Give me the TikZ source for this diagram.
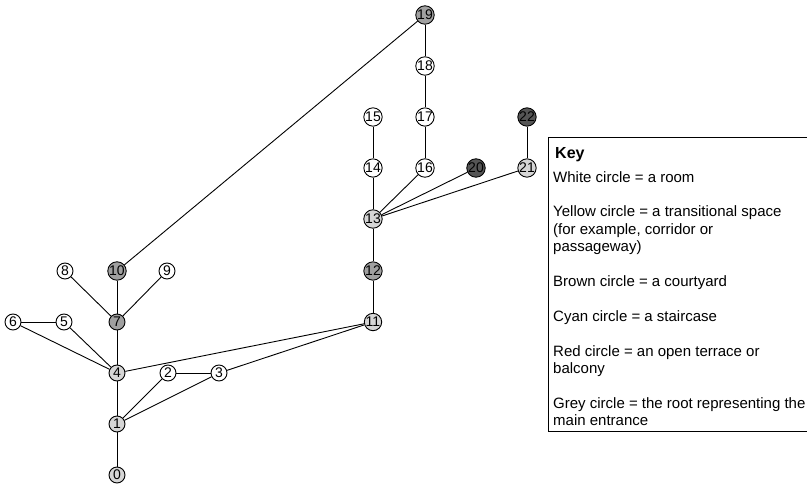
\documentclass[tikz,border=0pt]{standalone}
\usepackage{fontspec}
\setmainfont{Liberation Sans}
\definecolor{rootgrey}{HTML}{D6D6D6}
\definecolor{midgrey}{HTML}{A0A0A0}
\definecolor{darkgrey}{HTML}{555555}
\begin{document}
\begin{tikzpicture}[x=1pt, y=-1pt,
  vtx/.style={circle, draw, line width=0.9pt, minimum size=16pt, inner sep=0pt,
    font=\fontsize{14}{14}\selectfont},
  room/.style={vtx, fill=white},
  pale/.style={vtx, fill=rootgrey},
  mid/.style={vtx, fill=midgrey},
  dark/.style={vtx, fill=darkgrey},
  edge/.style={line width=0.9pt},
  keytext/.style={anchor=north west, inner sep=0pt, align=left,
    font=\fontsize{15}{17.4}\selectfont}]
\useasboundingbox (0,0) rectangle (807,485);

% vertices of the access graph
\node[pale] (n0)  at (117,475) {0};
\node[pale] (n1)  at (117,424) {1};
\node[room] (n2)  at (168,373) {2};
\node[room] (n3)  at (219,373) {3};
\node[pale] (n4)  at (117,373) {4};
\node[room] (n5)  at (64,322)  {5};
\node[room] (n6)  at (13,322)  {6};
\node[mid]  (n7)  at (117,322) {7};
\node[room] (n8)  at (65,271)  {8};
\node[room] (n9)  at (167,271) {9};
\node[mid]  (n10) at (117,271) {10};
\node[pale] (n11) at (373,322) {11};
\node[mid]  (n12) at (373,271) {12};
\node[pale] (n13) at (373,219) {13};
\node[room] (n14) at (373,168) {14};
\node[room] (n15) at (373,117) {15};
\node[room] (n16) at (425,168) {16};
\node[room] (n17) at (425,117) {17};
\node[room] (n18) at (425,66)  {18};
\node[mid]  (n19) at (425,15)  {19};
\node[dark] (n20) at (476,168) {20};
\node[pale] (n21) at (527,168) {21};
\node[dark] (n22) at (527,117) {22};

% links between spaces
\foreach \a/\b in {n0/n1, n1/n4, n1/n2, n1/n3, n2/n3, n4/n11, n3/n11,
                   n4/n5, n4/n6, n5/n6, n4/n7, n7/n8, n7/n10, n7/n9,
                   n10/n19, n11/n12, n12/n13, n13/n14, n14/n15, n13/n16,
                   n16/n17, n17/n18, n18/n19, n13/n20, n13/n21, n21/n22}
  \draw[edge] (\a) -- (\b);

% key panel
\draw[line width=0.9pt] (810,137) -| (548,431) -- (810,431);
\node[anchor=base west, inner sep=0pt, font=\fontsize{16}{16}\selectfont\bfseries]
  (keytitle) at (555,158) {Key};
\node[keytext] (keybody) at (553,171) {White circle = a room\\[17.4pt]
Yellow circle = a transitional space\\
(for example, corridor or\\
passageway)\\[17.4pt]
Brown circle = a courtyard\\[17.4pt]
Cyan circle = a staircase\\[17.4pt]
Red circle = an open terrace or\\
balcony\\[17.4pt]
Grey circle = the root representing the\\
main entrance};
\end{tikzpicture}
\end{document}
